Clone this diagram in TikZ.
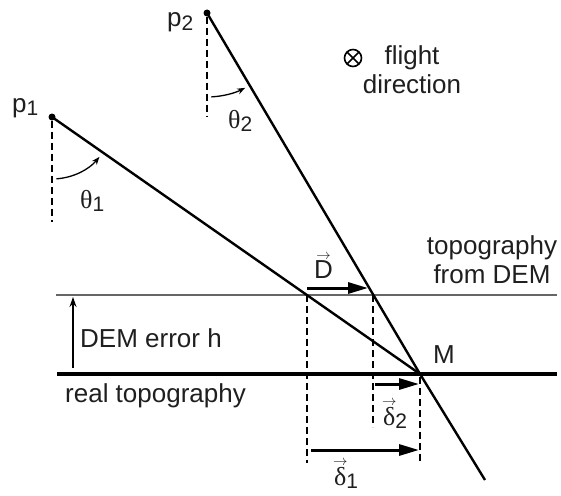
\documentclass[tikz,border=0pt]{standalone}
\usepackage{fontspec}
\setmainfont{Liberation Sans}
\newfontfamily\grk{Liberation Serif}
\usetikzlibrary{arrows.meta}
\newcommand\sbs[1]{\raisebox{-0.14em}{\fontsize{21}{21}\selectfont #1}}
\newcommand\ovar[1]{\setbox0\hbox{#1}\vbox{\offinterlineskip\hbox to\wd0{\hss\fontsize{15}{15}\selectfont$\rightarrow$\hss}\kern1pt\box0}}
\begin{document}
\begin{tikzpicture}[x=1pt,y=-1pt,font=\fontsize{26}{29}\selectfont,
  lbl/.style={inner sep=0pt,anchor=base west,text=black!88},
  ray/.style={line width=2.4pt},
  guide/.style={line width=1.2pt,dash pattern=on 7pt off 4pt},
  shiftarr/.style={line width=3pt,-{Triangle[length=20pt,width=11pt]}},
  angarr/.style={line width=1.3pt,-{Stealth[length=8pt,width=6pt]}},
  dot/.style={circle,fill,inner sep=0pt,minimum size=7pt},
  otimes/.style={circle,draw,line width=1.6pt,minimum size=17pt,inner sep=0pt,
    path picture={\draw[line width=1.6pt]
      (path picture bounding box.north west) -- (path picture bounding box.south east)
      (path picture bounding box.north east) -- (path picture bounding box.south west);}}]
\useasboundingbox (0,0) rectangle (561,495);
% points
\node[dot] (p1) at (52,117) {};
\node[dot] (p2) at (207,13) {};
\coordinate (M) at (420,374);
\coordinate (A) at (307,295);
\coordinate (B) at (373,295);
\coordinate (E) at (485,480);
% surfaces
\coordinate (demL) at (56,295);
\coordinate (demR) at (557,295);
\coordinate (realL) at (57,374);
\coordinate (realR) at (557,374);
\draw[line width=1.4pt,black!60] (demL) -- (demR);
\draw[line width=4.5pt] (realL) -- (realR);
% rays
\draw[ray] (p1.center) -- (M);
\draw[ray] (p2.center) -- (M) -- (E);
% vertical guides at p1, p2
\coordinate (v1) at (52,222);
\coordinate (v2) at (207,117);
\draw[guide] (p1) -- (v1);
\draw[guide] (p2) -- (v2);
% angle arcs
\draw[angarr] (p1.center) ++(86:62) arc[start angle=86,end angle=40,radius=62];
\draw[angarr] (p2.center) ++(87:84) arc[start angle=87,end angle=63,radius=84];
% dashed projections
\coordinate (Ad) at (307,463);
\coordinate (Bd) at (373,427);
\coordinate (Mt) at (420,377);
\coordinate (Md) at (420,462);
\draw[guide] (A) -- (Ad);
\draw[guide] (B) -- (Bd);
\draw[guide] (Mt) -- (Md);
% shift arrows
\coordinate (Ds) at (307,288);
\coordinate (De) at (368,288);
\draw[shiftarr] (Ds) -- (De);
\coordinate (d2s) at (375,384);
\coordinate (d2e) at (419,384);
\draw[shiftarr] (d2s) -- (d2e);
\coordinate (d1s) at (311,450);
\coordinate (d1e) at (419,450);
\draw[shiftarr] (d1s) -- (d1e);
% DEM error arrow
\coordinate (hs) at (73,368);
\coordinate (he) at (73,297);
\draw[line width=1.4pt,-{Stealth[length=10pt,width=7pt]}] (hs) -- (he);
% labels
\node[lbl] (lp1) at (12,112) {p\sbs{1}};
\node[lbl] (lp2) at (167,27) {p\sbs{2}};
\node[lbl] (lt1) at (80,208) {{\grk θ}\sbs{1}};
\node[lbl] (lt2) at (228,128) {{\grk θ}\sbs{2}};
\node[lbl] (lD) at (314,278) {\ovar{D}};
\node[lbl] (ld2) at (383,425) {\ovar{\grk δ}\sbs{2}};
\node[lbl] (ld1) at (334,485) {\ovar{\grk δ}\sbs{1}};
\node[lbl] (lM) at (433,363) {M};
\node[lbl] (lh) at (80,347) {DEM error h};
\node[lbl] (lreal) at (65,402) {real topography};
\node[inner sep=0pt,align=center,text=black!88,anchor=base] (ldem) at (492,283) {topography\\from DEM};
\node[inner sep=0pt,align=center,text=black!88,anchor=base] (lfl) at (412,93) {flight\\direction};
\node[otimes] (lx) at (353,58) {};
\end{tikzpicture}
\end{document}
